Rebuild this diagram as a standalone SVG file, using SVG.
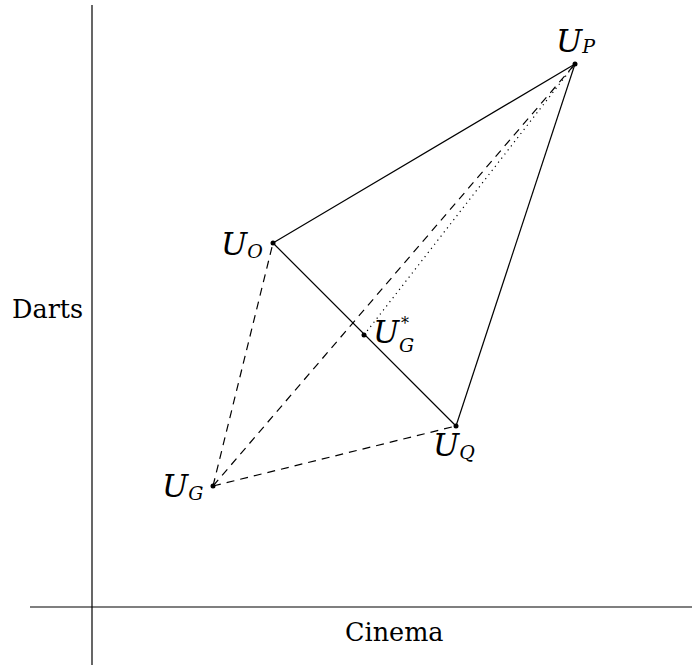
<svg xmlns="http://www.w3.org/2000/svg" width="692" height="665" viewBox="0 0 692 665">
<style>
.ax{stroke:#000;stroke-width:1.2;fill:none}
.s{stroke:#000;stroke-width:1.2;fill:none}
.d{stroke:#000;stroke-width:1.2;fill:none;stroke-dasharray:8,6}
.o{stroke:#000;stroke-width:1.2;fill:none;stroke-dasharray:1.2,4}
.pt{fill:#000}
.lab{font-family:"DejaVu Serif",serif;font-style:italic;font-size:31px;fill:#000}
.sub{font-size:19px}
.sup{font-size:16px}
.ttl{font-family:"DejaVu Serif",serif;font-size:25.5px;fill:#000}
</style>
<rect width="692" height="665" fill="#fff"/>
<g id="axes">
<line class="ax" x1="92" y1="5" x2="92" y2="665"/>
<line class="ax" x1="30" y1="607" x2="692" y2="607"/>
<text class="ttl" x="12" y="318">Darts</text>
<text class="ttl" x="345" y="641">Cinema</text>
</g>
<g id="connectors">
<line class="s" x1="575" y1="64" x2="273" y2="243"/>
<line class="s" x1="273" y1="243" x2="456" y2="426"/>
<line class="s" x1="575" y1="64" x2="456" y2="426"/>
<line class="d" x1="213" y1="486" x2="273" y2="243"/>
<line class="d" x1="213" y1="486" x2="456" y2="426"/>
<line class="d" x1="213" y1="486" x2="575" y2="64"/>
<line class="o" x1="364" y1="335" x2="575" y2="64"/>
</g>
<g id="UP"><circle class="pt" cx="575" cy="64" r="2.5"/><text class="lab" x="556" y="52">U<tspan class="sub" dy="1">P</tspan></text></g>
<g id="UO"><circle class="pt" cx="273" cy="243" r="2.5"/><text class="lab" x="221" y="255">U<tspan class="sub" dy="3">O</tspan></text></g>
<g id="UGstar"><circle class="pt" cx="364" cy="335" r="2.5"/><text class="lab" x="373" y="343">U</text><text class="lab sup" x="401" y="329">*</text><text class="lab sub" x="399" y="352">G</text></g>
<g id="UQ"><circle class="pt" cx="456" cy="426" r="2.5"/><text class="lab" x="433" y="456">U<tspan class="sub" dy="3">Q</tspan></text></g>
<g id="UG"><circle class="pt" cx="213" cy="486" r="2.5"/><text class="lab" x="162" y="497">U<tspan class="sub" dy="3">G</tspan></text></g>
</svg>
